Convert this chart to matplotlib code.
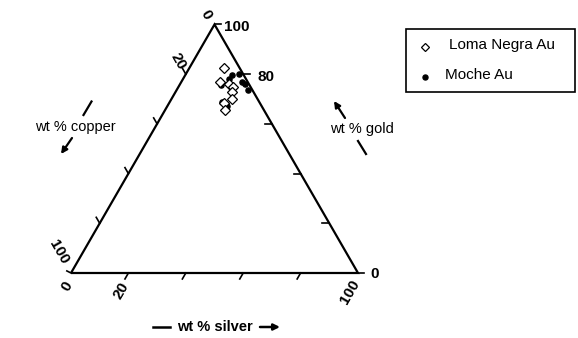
#!/usr/bin/env python
# coding=utf8
"""
Ternary diagram of Au-Ag-Cu composition, Loma Negra vs Moche gold
"""
import numpy as np
import matplotlib
matplotlib.use('Agg')
import matplotlib.pyplot as plt

################################################################################
# wt % (copper = 100 - gold - silver)
loma_gold = [82.5, 77.0, 76.0, 75.0, 73.0, 70.0, 68.5, 65.5]
loma_silver = [12.0, 13.5, 17.0, 19.0, 19.5, 21.0, 19.0, 21.0]
moche_gold = [79.5, 80.0, 77.0, 76.0, 73.5, 75.5, 74.0, 69.0, 67.0, 78.0]
moche_silver = [16.5, 18.5, 21.0, 22.5, 25.0, 14.5, 19.0, 18.0, 21.0, 16.0]

tick_values = [20, 40, 60, 80]
series_labels = ['Loma Negra Au', 'Moche Au']

H = np.sqrt(3) / 2
FONT = ['Liberation Sans', 'DejaVu Sans']
plt.rcParams['font.family'] = FONT


def tern(gold, silver):
    g = np.asarray(gold, dtype=float) / 100.0
    s = np.asarray(silver, dtype=float) / 100.0
    return s + g / 2.0, g * H


def px(x, y):
    # picture pixel -> axes data units (triangle side = 287 px)
    return (x - 71) / 287.0, (273 - y) / 287.0


fig = plt.figure(figsize=(5.78, 3.38), dpi=100)
ax = fig.add_axes([0, 0, 1, 1])
ax.set_xlim(-71 / 287.0, (578 - 71) / 287.0)
ax.set_ylim(-(338 - 273) / 287.0, 273 / 287.0)
ax.axis('off')

# triangle
ax.plot([0, 1, 0.5, 0], [0, 0, H, 0], color='black', lw=1.6,
        solid_joinstyle='miter', solid_capstyle='butt')

# ticks -----------------------------------------------------------------------
tl = 0.024
for v in tick_values:
    # silver (bottom), outward along constant-silver lines
    x0, y0 = v / 100.0, 0.0
    ax.plot([x0, x0 - tl * 0.5], [y0, y0 - tl * H], color='black', lw=1.2)
    # gold (right), horizontal
    x0, y0 = tern(v, 100 - v)
    if v == 80:
        ax.plot([x0, x0 + tl], [y0, y0], color='black', lw=1.2)
    else:
        ax.plot([x0, x0 - tl], [y0, y0], color='black', lw=1.2)
    # copper (left), outward along constant-copper lines
    x0, y0 = tern(100 - v, 0)
    ax.plot([x0, x0 - tl * 0.5], [y0, y0 + tl * H], color='black', lw=1.2)
# corner ticks
ax.plot([0.5, 0.5 + tl], [H, H], color='black', lw=1.2)
ax.plot([0, -tl * 0.6], [0, tl * 0.3], color='black', lw=1.2)
ax.plot([1, 1 + tl * 0.8], [0, 0], color='black', lw=1.2)

# tick labels -----------------------------------------------------------------
num = dict(fontsize=11, fontweight='bold', ha='center', va='center')
ax.text(*px(237, 27), '100', **num)
ax.text(*px(266, 77), '80', **num)
ax.text(*px(375, 274), '0', **num)
ax.text(*px(206, 15), '0', rotation=-60, **num)
ax.text(*px(178, 61), '20', rotation=-60, **num)
ax.text(*px(59, 252), '100', rotation=-60, **num)
ax.text(*px(67, 286), '0', rotation=60, **num)
ax.text(*px(121, 291), '20', rotation=60, **num)
ax.text(*px(350, 292), '100', rotation=60, **num)

# data --------------------------------------------------------------------------
lx, ly = tern(loma_gold, loma_silver)
mx, my = tern(moche_gold, moche_silver)
ax.plot(mx, my, 'o', ms=3.7, color='black', mec='black', zorder=3)
ax.plot(lx, ly, 'D', ms=5.0, mfc='white', mec='black', mew=0.9, zorder=4)

# axis titles -------------------------------------------------------------------
lab = dict(fontsize=10.5, ha='center', va='center')
ax.text(*px(75, 127), 'wt % copper', **lab)
ax.plot(*zip(px(91.5, 101.5), px(83.5, 115)), color='black', lw=1.6)
ax.annotate('', xy=px(61, 154), xytext=px(72, 138),
            arrowprops=dict(arrowstyle='-|>', color='black', lw=1.6,
                            mutation_scale=9, shrinkA=0, shrinkB=0))

ax.text(*px(362, 129), 'wt % gold', **lab)
ax.annotate('', xy=px(334, 101), xytext=px(345, 118),
            arrowprops=dict(arrowstyle='-|>', color='black', lw=1.6,
                            mutation_scale=9, shrinkA=0, shrinkB=0))
ax.plot(*zip(px(358, 141), px(366, 154)), color='black', lw=1.6)

ax.text(*px(215, 327), 'wt % silver', fontsize=10.5, fontweight='bold',
        ha='center', va='center')
ax.plot(*zip(px(153, 327), px(170, 327)), color='black', lw=1.8)
ax.annotate('', xy=px(280, 327), xytext=px(260, 327),
            arrowprops=dict(arrowstyle='-|>', color='black', lw=1.8,
                            mutation_scale=9, shrinkA=0, shrinkB=0))

# legend box --------------------------------------------------------------------
x0, y0 = px(406, 92)
x1, y1 = px(575, 29)
ax.add_patch(plt.Rectangle((x0, y0), x1 - x0, y1 - y0, fill=False,
                           ec='black', lw=1.2))
ax.plot(*px(425, 47), 'D', ms=4.2, mfc='white', mec='black', mew=0.9)
ax.text(*px(449, 45), series_labels[0], fontsize=11, ha='left', va='center')
ax.plot(*px(425, 77), 'o', ms=3.6, color='black')
ax.text(*px(445, 75), series_labels[1], fontsize=11, ha='left', va='center')

fig.savefig('out.png', dpi=100)
